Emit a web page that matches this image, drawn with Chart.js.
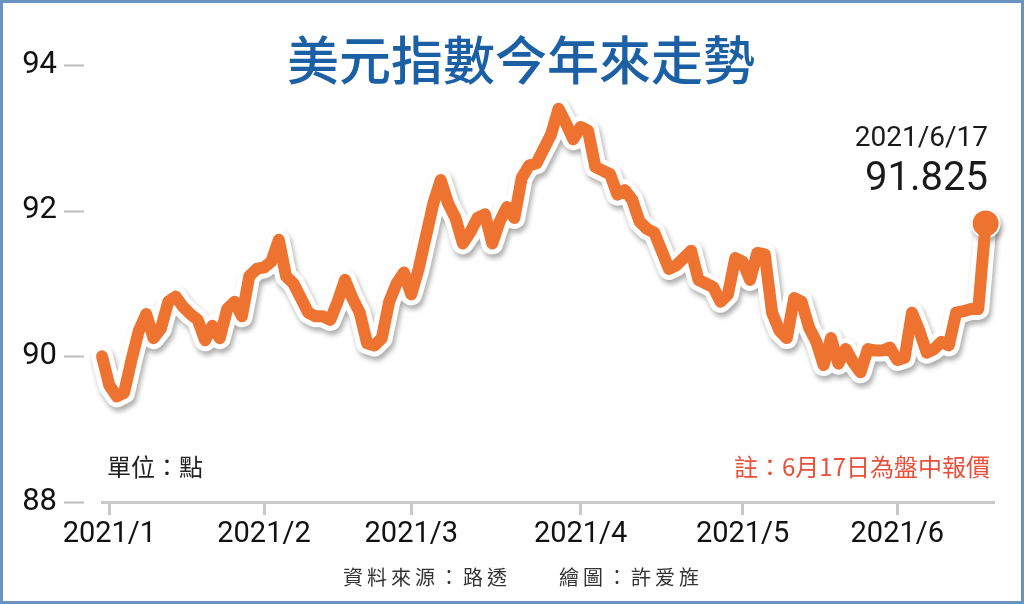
<!DOCTYPE html>
<html>
<head>
<meta charset="utf-8">
<script src="https://cdn.jsdelivr.net/npm/chart.js@4"></script>
<style>
html,body{margin:0;padding:0;background:#fff;}
canvas{display:block;}
</style>
</head>
<body>
<canvas id="c" width="1024" height="604"></canvas>
<script>
// trading-day index (0 = first trading day of 2021/1)
const tradingDay = [-1,0,1,2,3,4,5,6,7,8,9,10,11,12,13,14,15,16,17,18,19,20,
  21,22,23,24,25,26,27,28,29,30,31,32,33,34,35,36,37,38,39,40,
  41,42,43,44,45,46,47,48,49,50,51,52,53,54,55,56,57,58,59,60,61,62,63,
  64,65,66,67,68,69,70,71,72,73,74,75,76,77,78,79,80,81,82,83,84,85,
  86,87,88,89,90,91,92,93,94,95,96,97,98,99,100,101,102,103,104,105,106,
  107,108,109,110,111,112,113,114,115,116,117,118,119];
// US dollar index values
const dxy = [90.0,89.6,89.45,89.5,89.95,90.35,90.58,90.25,90.38,90.75,90.82,90.68,90.58,90.5,90.22,90.42,90.25,90.65,90.75,90.55,91.1,91.2,
  91.22,91.3,91.6,91.1,91.0,90.8,90.6,90.55,90.55,90.5,90.75,91.05,90.8,90.6,90.18,90.15,90.25,90.75,91.0,91.15,
  90.85,91.2,91.65,92.1,92.42,92.1,91.9,91.55,91.7,91.9,91.95,91.55,91.85,92.05,91.9,92.45,92.62,92.65,92.85,93.05,93.4,93.2,92.98,
  93.15,93.1,92.6,92.55,92.5,92.22,92.28,92.15,91.85,91.75,91.7,91.45,91.2,91.25,91.35,91.45,91.05,91.0,90.95,90.75,90.85,91.35,
  91.3,91.05,91.42,91.4,90.6,90.35,90.25,90.8,90.75,90.4,90.2,89.88,90.25,89.9,90.1,89.92,89.78,90.1,90.08,90.08,90.12,
  89.95,89.98,90.6,90.35,90.05,90.1,90.2,90.15,90.6,90.62,90.65,90.65,91.825];
// month-start positions on the trading-day axis and their labels
const monthStart = [0,21,41,64,86,107];
const monthLabels = ['2021/1','2021/2','2021/3','2021/4','2021/5','2021/6'];
const yTicks = [88,90,92,94];

const lastIdx = dxy.length - 1;
const points = tradingDay.map((d,i)=>({x:d,y:dxy[i]}));
const ORANGE = '#ee7330';

const shadowPlugin = {
  id:'shadowPlugin',
  beforeDatasetDraw(chart,args){
    if(chart.data.datasets[args.index].label==='outline'){
      const c=chart.ctx; c.save();
      c.shadowColor='rgba(0,0,0,0.32)'; c.shadowBlur=5; c.shadowOffsetX=2; c.shadowOffsetY=4;
    }
  },
  afterDatasetDraw(chart,args){
    if(chart.data.datasets[args.index].label==='outline'){ chart.ctx.restore(); }
  }
};

const decorPlugin = {
  id:'decor',
  afterDraw(chart){
    const c=chart.ctx, ys=chart.scales.y;
    c.save();
    // y tick dashes
    c.strokeStyle='#bdbdbd'; c.lineWidth=2;
    yTicks.forEach(v=>{
      const py=Math.round(ys.getPixelForValue(v))+0.5;
      c.beginPath(); c.moveTo(64,py); c.lineTo(84,py); c.stroke();
    });
    // title
    c.fillStyle='#1b5fa5'; c.textAlign='center'; c.textBaseline='middle';
    c.font='500 52px "Noto Sans CJK TC"';
    c.fillText('美元指數今年來走勢',521,60);
    // last value annotation
    c.fillStyle='#1a1a1a'; c.textAlign='right';
    c.font='28px Roboto';
    c.fillText('2021/6/17',988,139);
    c.font='40px Roboto';
    c.fillText(dxy[lastIdx].toFixed(3),988,180);
    // unit
    c.textAlign='left'; c.fillStyle='#222';
    c.font='24px "Noto Sans CJK TC"';
    c.fillText('單位：點',107,467);
    // note
    c.textAlign='right'; c.fillStyle='#e8503a';
    c.font='24px "Noto Sans CJK TC"';
    c.fillText('註：6月17日為盤中報價',990,467);
    // source
    c.textAlign='center'; c.fillStyle='#333';
    c.font='20px "Noto Sans CJK TC"';
    c.letterSpacing='4px';
    c.fillText('資料來源：路透　　繪圖：許爱旌',523,577);
    c.letterSpacing='0px';
    // frame
    c.strokeStyle='#6b93c1'; c.lineWidth=3;
    c.strokeRect(1.5,1.5,1021,601);
    c.restore();
  }
};

new Chart(document.getElementById('c'),{
  type:'line',
  data:{
    datasets:[
      {
        label:'outline', data:points, order:2,
        borderColor:'#ffffff', borderWidth:22,
        borderJoinStyle:'round', borderCapStyle:'round',
        pointRadius:points.map((p,i)=>i===lastIdx?15:0),
        pointBackgroundColor:'#ffffff', pointBorderWidth:0,
        tension:0, clip:false
      },
      {
        label:'美元指數', data:points, order:1,
        borderColor:ORANGE, borderWidth:12,
        borderJoinStyle:'round', borderCapStyle:'round',
        pointRadius:points.map((p,i)=>i===lastIdx?13:0),
        pointBackgroundColor:ORANGE, pointBorderWidth:0,
        tension:0, clip:false
      }
    ]
  },
  options:{
    responsive:false, animation:false,
    layout:{padding:{top:65,right:31,left:0,bottom:0}},
    plugins:{legend:{display:false},tooltip:{enabled:false}},
    scales:{
      x:{
        type:'linear', min:-1, max:120,
        afterBuildTicks(s){ s.ticks = monthStart.map(v=>({value:v})); },
        afterFit(s){ s.height=102; },
        grid:{drawOnChartArea:false,color:'#c9c9c9',lineWidth:3,tickLength:13},
        border:{color:'#c9c9c9',width:3},
        ticks:{padding:2,color:'#111',font:{family:'Roboto',size:29},maxRotation:0,autoSkip:false,
          callback:(v,i)=>monthLabels[i]}
      },
      y:{
        min:88,max:94,
        afterBuildTicks(s){ s.ticks = yTicks.map(v=>({value:v})); },
        afterFit(s){ s.width=102; },
        grid:{display:false,drawTicks:false}, border:{display:false},
        ticks:{padding:45,color:'#111',font:{family:'Roboto',size:31}}
      }
    }
  },
  plugins:[shadowPlugin,decorPlugin]
});
</script>
</body>
</html>
